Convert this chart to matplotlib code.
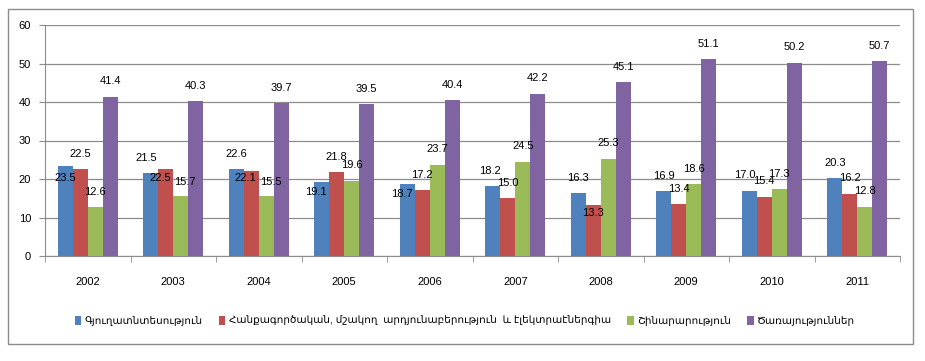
import matplotlib.pyplot as plt
import numpy as np
from matplotlib.patches import Rectangle

plt.rcParams["font.family"] = ["Liberation Sans", "DejaVu Sans"]

years = ["2002", "2003", "2004", "2005", "2006", "2007", "2008", "2009", "2010", "2011"]
series_names = [
    "Գյուղատնտեսություն",
    "Հանքագործական, մշակող  արդյունաբերություն  և էլեկտրաէներգիա",
    "Շինարարություն",
    "Ծառայություններ",
]
agriculture = [23.5, 21.5, 22.6, 19.1, 18.7, 18.2, 16.3, 16.9, 17.0, 20.3]
industry = [22.5, 22.5, 22.1, 21.8, 17.2, 15.0, 13.3, 13.4, 15.4, 16.2]
construction = [12.6, 15.7, 15.5, 19.6, 23.7, 24.5, 25.3, 18.6, 17.3, 12.8]
services = [41.4, 40.3, 39.7, 39.5, 40.4, 42.2, 45.1, 51.1, 50.2, 50.7]
colors = ["#4F81BD", "#C0504D", "#9BBB59", "#8064A2"]

# labels that Excel pushed around (dx, dy in points), default is straight above
label_shift = {
    (0, 0): (0, -9), (1, 1): (-4, -6), (2, 1): (-4, -5),
    (1, 2): (3, 10), (2, 2): (3, 10),
    (3, 0): (-4, -7), (4, 0): (-4, -7), (6, 1): (0, -6),
    (1, 0): (-3, 11), (5, 0): (-2, 11), (8, 0): (-3, 11),
}

fig = plt.figure(figsize=(9.25, 3.61), dpi=100)
fig.patches.append(Rectangle((8 / 925, 1 - 344 / 361), 905 / 925, 335 / 361,
                             transform=fig.transFigure, fill=False,
                             edgecolor="#8C8C8C", linewidth=1.0))
ax = fig.add_axes([45 / 925, 1 - 256 / 361, 855 / 925, 231 / 361])

x = np.arange(len(years))
width = 0.175
all_series = [agriculture, industry, construction, services]
for s, (values, color, name) in enumerate(zip(all_series, colors, series_names)):
    pos = x + (s - 1.5) * width
    ax.bar(pos, values, width, color=color, label=name, zorder=3)
    for i, v in enumerate(values):
        dx, dy = label_shift.get((i, s), (0, 11))
        ax.annotate(f"{v:.1f}", (pos[i], v), xytext=(dx, dy), textcoords="offset points",
                    ha="center", va="center", fontsize=8, zorder=4)

ax.set_xlim(-0.5, len(years) - 0.5)
ax.set_ylim(0, 60)
ax.set_yticks(range(0, 61, 10))
ax.yaxis.grid(True, color="#8C8C8C", linewidth=0.9, zorder=0)
ax.set_xticks(x)
ax.set_xticklabels(years, fontsize=8)
ax.set_xticks(np.arange(-0.5, len(years), 1), minor=True)
ax.tick_params(axis="x", which="major", length=0, pad=15)
ax.tick_params(axis="x", which="minor", length=4, color="#8C8C8C", direction="out")
ax.tick_params(axis="y", length=4, color="#8C8C8C", labelsize=8, pad=6)
for side in ["top", "right"]:
    ax.spines[side].set_visible(False)
for side in ["left", "bottom"]:
    ax.spines[side].set_color("#8C8C8C")

fig.legend(loc="center", bbox_to_anchor=(465 / 925, 1 - 321 / 361), ncol=4, frameon=False,
           fontsize=7.5, handlelength=0.6, handleheight=0.9, handletextpad=0.3, columnspacing=1.6)

fig.savefig("out.png", dpi=100)
